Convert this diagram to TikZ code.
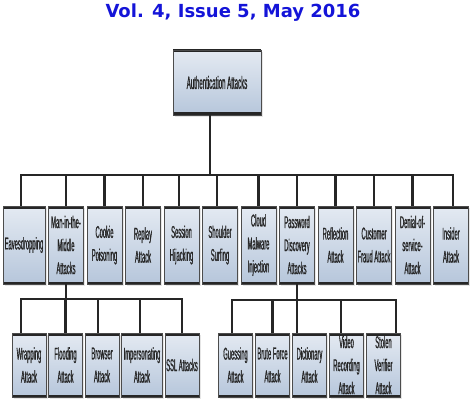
\documentclass[tikz,border=0pt]{standalone}
\usepackage{fontspec}
\setmainfont{Liberation Sans}
\newfontfamily\titlefont{DejaVu Sans}
\newfontfamily\boxfont[FakeStretch=0.34, FakeBold=0.8]{Liberation Sans}
\usetikzlibrary{positioning,shadows}

\definecolor{boxtop}{HTML}{E4EAF2}
\definecolor{boxbot}{HTML}{B6C6DB}
\definecolor{titleblue}{HTML}{1414D8}

\begin{document}
\begin{tikzpicture}[
  x=1pt, y=1pt,
  box/.style={draw=black!70, line width=0.9pt, outer sep=0pt, top color=boxtop, bottom color=boxbot,
    align=center, minimum width=35pt, minimum height=78pt, inner sep=1pt,
    font=\boxfont\fontsize{17}{23}\selectfont, text=black!85,
    drop shadow={opacity=0.2, shadow xshift=1.5pt, shadow yshift=-2pt},
    path picture={\draw[black!85, line width=5pt]
      (path picture bounding box.north west) -- (path picture bounding box.north east)
      (path picture bounding box.south west) -- (path picture bounding box.south east);}},
  small/.style={box, minimum width=34pt, minimum height=64pt},
  link/.style={draw=black!85, line width=2.2pt},
  heading/.style={font=\titlefont\bfseries\fontsize{18}{20}\selectfont, text=titleblue}
]
\useasboundingbox (0,0) rectangle (470,-406);

\node[heading] (title) at (233,-13) {Vol. 4, Issue 5, May 2016};

\node[box, minimum width=88pt, minimum height=65pt, font=\boxfont\fontsize{18}{23}\selectfont] (root) at (217,-82.5) {Authentication Attacks};

% first level
\node[box, minimum width=42pt] (eaves) at (24,-245) {Eavesdropping};
\node[box, right=3.5pt of eaves] (mitm) {Man-in-the-\\Middle\\Attacks};
\node[box, right=3.5pt of mitm] (cookie) {Cookie\\Poisoning};
\node[box, right=3.5pt of cookie] (replay) {Replay\\Attack};
\node[box, right=3.5pt of replay] (session) {Session\\Hijacking};
\node[box, right=3.5pt of session] (shoulder) {Shoulder\\Surfing};
\node[box, right=3.5pt of shoulder] (cloud) {Cloud\\Malware\\Injection};
\node[box, right=3.5pt of cloud] (passwd) {Password\\Discovery\\Attacks};
\node[box, right=3.5pt of passwd] (reflect) {Reflection\\Attack};
\node[box, right=3.5pt of reflect] (fraud) {Customer\\Fraud Attack};
\node[box, right=3.5pt of fraud] (dos) {Denial-of-\\service-\\Attack};
\node[box, right=3.5pt of dos] (insider) {Insider\\Attack};

% man-in-the-middle children
\node[small] (wrap) at (29,-365) {Wrapping\\Attack};
\node[small, right=2.5pt of wrap] (flood) {Flooding\\Attack};
\node[small, right=2.5pt of flood] (browser) {Browser\\Attack};
\node[small, right=2.5pt of browser, minimum width=41pt] (imperson) {Impersonating\\Attack};
\node[small, right=2.5pt of imperson] (ssl) {SSL Attacks};

% password discovery children
\node[small] (guess) at (235.5,-365) {Guessing\\Attack};
\node[small, right=3pt of guess] (brute) {Brute Force\\Attack};
\node[small, right=3pt of brute] (dict) {Dictionary\\Attack};
\node[small, right=3pt of dict] (video) {Video\\Recording\\Attack};
\node[small, right=3pt of video] (stolen) {Stolen\\Verifier\\Attack};

\coordinate (hub) at ([xshift=-7pt, yshift=-60pt]root.south);
\coordinate (mhub) at ([yshift=-15pt]mitm.south);
\coordinate (phub) at ([yshift=-16pt]passwd.south);

\draw[link] ([xshift=-7pt]root.south) -- (hub);
\draw[link] (hub) -| ([xshift=-3pt]eaves.north);
\draw[link] (hub) -| (mitm.north);
\draw[link] (hub) -| (cookie.north);
\draw[link] (hub) -| (replay.north);
\draw[link] (hub) -| ([xshift=-2.5pt]session.north);
\draw[link] (hub) -| ([xshift=-3pt]shoulder.north);
\draw[link] (hub) -| (cloud.north);
\draw[link] (hub) -| (passwd.north);
\draw[link] (hub) -| (reflect.north);
\draw[link] (hub) -| (fraud.north);
\draw[link] (hub) -| (dos.north);
\draw[link] (hub) -| ([xshift=2pt]insider.north);

\draw[link] (mitm.south) -- (mhub);
\draw[link] (mhub) -| ([xshift=-8pt]wrap.north);
\draw[link] (mhub) -| (flood.north);
\draw[link] (mhub) -| ([xshift=-4pt]browser.north);
\draw[link] (mhub) -| ([xshift=-2pt]imperson.north);
\draw[link] (mhub) -| (ssl.north);

\draw[link] (passwd.south) -- (phub);
\draw[link] (phub) -| ([xshift=-3.5pt]guess.north);
\draw[link] (phub) -| (brute.north);
\draw[link] (phub) -| ([xshift=-12.5pt]dict.north);
\draw[link] (phub) -| ([xshift=-5.5pt]video.north);
\draw[link] (phub) -| ([xshift=12.5pt]stolen.north);

\end{tikzpicture}
\end{document}
